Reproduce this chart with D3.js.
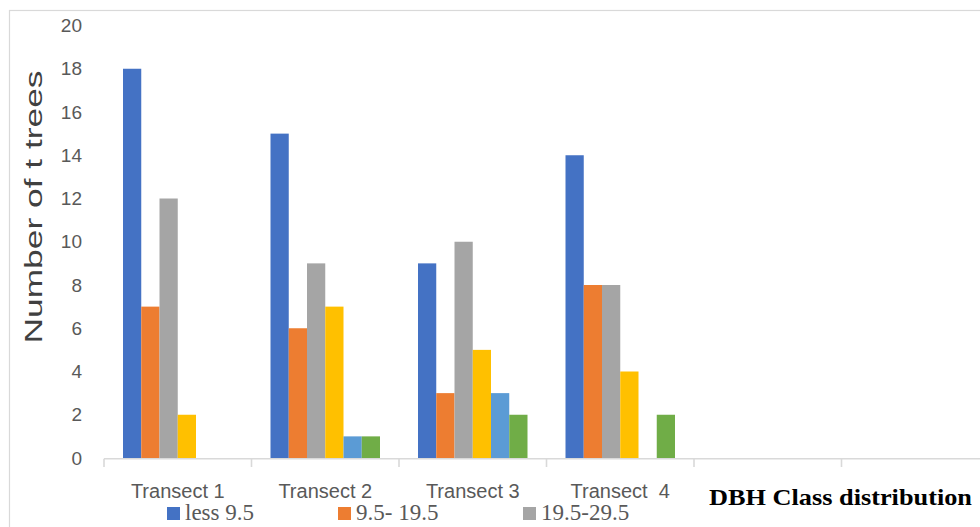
<!DOCTYPE html>
<html>
<head>
<meta charset="utf-8">
<script src="https://cdn.jsdelivr.net/npm/d3@7/dist/d3.min.js"></script>
<style>
html,body{margin:0;padding:0;background:#fff;overflow:hidden;}
svg{display:block;}
</style>
</head>
<body>
<svg id="chart" width="980" height="527"></svg>
<script>
// ---- data ----
const categories = ["Transect 1", "Transect 2", "Transect 3", "Transect  4", "", ""];
const seriesNames = ["less 9.5", "9.5- 19.5", "19.5-29.5", "29.5-39.5", "39.5-49.5", "above 49.5"];
const seriesColors = ["#4472C4", "#ED7D31", "#A5A5A5", "#FFC000", "#5B9BD5", "#70AD47"];
// values per series, one per category (Transect 1..4, two empty categories)
const lessThan9_5   = [18, 15, 9, 14, null, null];
const from9_5to19_5 = [7, 6, 3, 8, null, null];
const from19_5to29_5= [12, 9, 10, 8, null, null];
const series4       = [2, 7, 5, 4, null, null];
const series5       = [0, 1, 3, 0, null, null];
const series6       = [0, 1, 2, 2, null, null];
const seriesValues = [lessThan9_5, from9_5to19_5, from19_5to29_5, series4, series5, series6];
const yTicks = [0, 2, 4, 6, 8, 10, 12, 14, 16, 18, 20];
const legendShown = [0, 1, 2];
const yTitle = "Number of t trees";
const xTitle = "DBH Class distribution";

// ---- layout ----
const svg = d3.select("#chart");
const bandW = 147.5;
const x0 = d3.scaleBand().domain(d3.range(categories.length))
  .range([104, 104 + bandW * categories.length]).paddingInner(0).paddingOuter(0);
const x1 = d3.scaleBand().domain(d3.range(seriesNames.length))
  .range([19, bandW - 19]).padding(0);
const y = d3.scaleLinear().domain([0, 20]).range([458, 25.5]);

// outer border
svg.append("rect").attr("x", 9.5).attr("y", 10.5).attr("width", 1000).attr("height", 600)
  .attr("fill", "none").attr("stroke", "#d9d9d9").attr("stroke-width", 1.2);

// bars
const g = svg.append("g");
categories.forEach((c, ci) => {
  seriesValues.forEach((vals, si) => {
    const v = vals[ci];
    if (v == null || v === 0) return;
    g.append("rect")
      .attr("x", x0(ci) + x1(si))
      .attr("y", y(v))
      .attr("width", x1.bandwidth())
      .attr("height", y(0) - y(v))
      .attr("fill", seriesColors[si]);
  });
});

// x axis line and ticks
const axisY = y(0) + 0.8;
svg.append("line").attr("x1", 104).attr("x2", 980).attr("y1", axisY).attr("y2", axisY)
  .attr("stroke", "#d9d9d9").attr("stroke-width", 1.6);
d3.range(categories.length + 1).forEach(i => {
  const xx = 104 + bandW * i;
  svg.append("line").attr("x1", xx).attr("x2", xx).attr("y1", axisY).attr("y2", 467)
    .attr("stroke", "#d9d9d9").attr("stroke-width", 1.6);
});

// category labels
categories.forEach((c, ci) => {
  if (!c) return;
  svg.append("text").attr("x", x0(ci) + bandW / 2).attr("y", 498)
    .attr("text-anchor", "middle").attr("font-family", "'Liberation Sans', Arial, sans-serif")
    .attr("font-size", 20).attr("fill", "#595959").style("white-space", "pre")
    .text(c);
});

// y tick labels
yTicks.forEach(t => {
  svg.append("text").attr("x", 82).attr("y", y(t)).attr("dy", "0.35em")
    .attr("text-anchor", "end").attr("font-family", "'Liberation Sans', Arial, sans-serif")
    .attr("font-size", 19).attr("fill", "#595959").text(t);
});

// y title
svg.append("text").attr("transform", "translate(42,207) rotate(-90)")
  .attr("text-anchor", "middle").attr("font-family", "'Liberation Sans', Arial, sans-serif")
  .attr("font-size", 23).attr("fill", "#404040")
  .attr("textLength", 273).attr("lengthAdjust", "spacingAndGlyphs")
  .text(yTitle);

// legend
const legendX = [167, 338, 523];
legendShown.forEach((si, k) => {
  svg.append("rect").attr("x", legendX[k]).attr("y", 507).attr("width", 13).attr("height", 13)
    .attr("fill", seriesColors[si]);
  svg.append("text").attr("x", legendX[k] + 18).attr("y", 520)
    .attr("font-family", "'Liberation Serif', 'Times New Roman', serif")
    .attr("font-size", 23).attr("fill", "#595959").text(seriesNames[si]);
});

// DBH title
svg.append("text").attr("x", 709).attr("y", 505)
  .attr("font-family", "'Liberation Serif', 'Times New Roman', serif")
  .attr("font-weight", "bold").attr("font-size", 23).attr("fill", "#000")
  .attr("textLength", 263).attr("lengthAdjust", "spacingAndGlyphs")
  .text(xTitle);
</script>
</body>
</html>
